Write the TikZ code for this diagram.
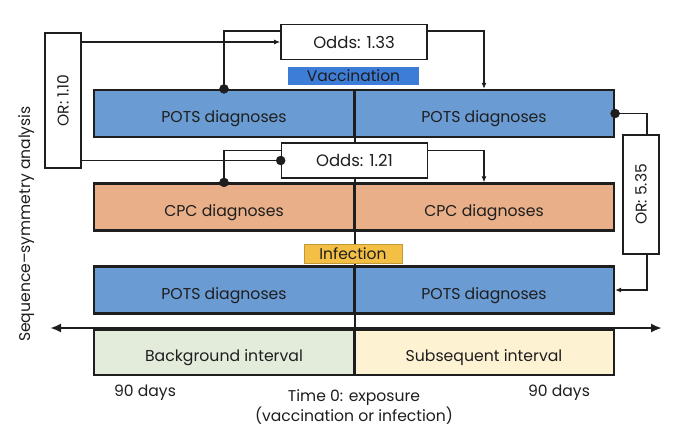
\documentclass[tikz,border=0pt]{standalone}
\usepackage{fontspec}
\setmainfont{Poppins}
\usetikzlibrary{arrows.meta}
\definecolor{potsblue}{HTML}{6A9BD3}
\definecolor{vaccblue}{HTML}{3D7DD8}
\definecolor{cpcorange}{HTML}{E9AF88}
\definecolor{infyellow}{HTML}{F3BF45}
\definecolor{bggreen}{HTML}{E3ECDA}
\definecolor{subcream}{HTML}{FDF2D2}
\definecolor{ink}{HTML}{1E1E1E}

\begin{document}
\begin{tikzpicture}[x=1pt, y=-1pt,
    row/.style={draw=ink, line width=2.2pt, minimum width=260pt, minimum height=47pt,
        inner sep=0pt, text height=18pt, text depth=0pt, text=ink,
        font=\fontsize{15.7}{18}\selectfont},
    oddsbox/.style={draw=ink, fill=white, line width=1.6pt, minimum width=146pt,
        minimum height=35pt, inner sep=0pt, text=ink, font=\fontsize{16.5}{19}\selectfont},
    orbox/.style={draw=ink, fill=white, line width=1.6pt, minimum width=36pt,
        inner sep=0pt, text=ink, font=\fontsize{15.5}{18}\selectfont},
    tag/.style={inner sep=0pt, text=ink, font=\fontsize{15.5}{18}\selectfont},
    link/.style={draw=ink, line width=1.3pt},
    tip/.style={-{Latex[length=6pt, width=5pt]}},
    plain/.style={text=ink, font=\fontsize{15.6}{20}\selectfont, align=center}]
    \useasboundingbox (0,0) rectangle (680,445);

    \node[row, fill=potsblue] (vacL) at (224,113.5) {POTS diagnoses};
    \node[row, fill=potsblue] (vacR) at (484,113.5) {POTS diagnoses};
    \node[row, fill=cpcorange] (cpcL) at (224,207) {CPC diagnoses};
    \node[row, fill=cpcorange] (cpcR) at (484,207) {CPC diagnoses};
    \node[row, fill=potsblue] (infL) at (224,290) {POTS diagnoses};
    \node[row, fill=potsblue] (infR) at (484,290) {POTS diagnoses};

    \node[row, fill=bggreen, minimum height=45pt] (bgL) at (224,352.5) {Background interval};
    \node[row, fill=subcream, minimum height=45pt] (subR) at (484,352.5) {Subsequent interval};

    \coordinate (tleft) at (50,328);
    \coordinate (tright) at (662,328);
    \draw[ink, line width=2.2pt, {Latex[length=11pt, width=9pt]}-{Latex[length=11pt, width=9pt]}]
        (tleft) -- (tright);
    \draw[ink, line width=2pt] (vacL.north east) -- (bgL.south east);

    \node[tag, fill=vaccblue, minimum width=131pt, minimum height=18pt] (vacc) at (353.5,76) {Vaccination};
    \node[tag, fill=infyellow, draw=infyellow!80!black, minimum width=98pt, minimum height=19pt] (infect) at (353,254) {Infection};

    \node[oddsbox] (odds1) at (354,42) {Odds: 1.33};
    \node[oddsbox] (odds2) at (354.5,160.5) {Odds: 1.21};
    \node[orbox, minimum height=135pt] (or1) at (63,100.5) {\rotatebox{90}{OR: 1.10}};
    \node[orbox, minimum height=119pt] (or2) at (641,194.5) {\rotatebox{90}{OR: 5.35}};

    \draw[link, tip] (or1.east |- odds1.west) -- (odds1.west);
    \draw[link] ([yshift=11pt]odds1.west) -| (vacL.north);
    \draw[link, tip] ([yshift=11pt]odds1.east) -| (vacR.north);
    \draw[link] (vacR.east) -| ([xshift=6pt]or2.north);
    \draw[link, tip] ([xshift=6pt]or2.south) |- (infR.east);
    \draw[link] (or1.east |- odds2.west) -- (odds2.west);
    \draw[link] ([yshift=10pt]odds2.west) -| (cpcL.north);
    \draw[link, tip] ([yshift=10pt]odds2.east) -| (cpcR.north);

    \filldraw[ink] (vacL.north) circle (4.5);
    \filldraw[ink] (vacR.east) circle (4.5);
    \filldraw[ink] (odds2.west) circle (4.5);
    \filldraw[ink] (cpcL.north) circle (4.5);

    \node[plain, rotate=90] (ssa) at (27,224) {Sequence–symmetry analysis};
    \node[plain] (daysL) at (145,393) {90 days};
    \node[plain] (daysR) at (559,393) {90 days};
    \node[plain] (time0) at (354,407) {Time 0: exposure\\(vaccination or infection)};
\end{tikzpicture}
\end{document}
